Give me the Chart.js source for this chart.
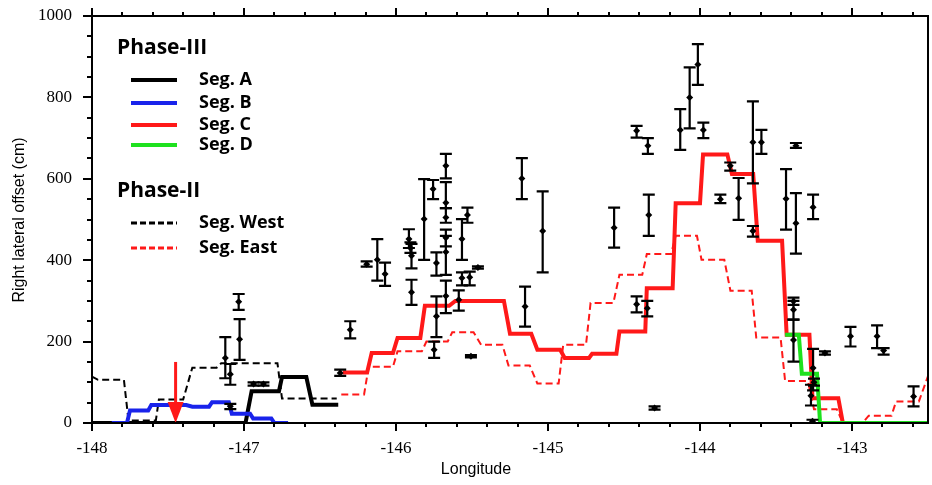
<!DOCTYPE html>
<html>
<head>
<meta charset="utf-8">
<script src="https://cdn.jsdelivr.net/npm/chart.js@4.4.1/dist/chart.umd.min.js"></script>
<style>
  html, body { margin: 0; padding: 0; background: #fff; }
  #wrap { width: 932px; height: 485px; }
</style>
</head>
<body>
<div id="wrap"><canvas id="offset-chart" width="932" height="485"></canvas></div>
<script>
// Phase-III step profiles, [longitude, right lateral offset (cm)]
const segA = [[-148, 0], [-146.99, 0], [-146.95, 78], [-146.77, 78], [-146.75, 113], [-146.59, 113],
  [-146.55, 45], [-146.38, 45]];
const segB = [[-147.87, 0], [-147.77, 0], [-147.75, 31], [-147.63, 31], [-147.61, 44], [-147.38, 44],
  [-147.34, 40], [-147.23, 40], [-147.21, 51], [-147.10, 51], [-147.08, 23], [-146.96, 23],
  [-146.94, 11], [-146.82, 11], [-146.80, 0], [-146.71, 0]];
const segC = [[-146.35, 124], [-146.19, 124], [-146.16, 172], [-146.02, 172], [-145.99, 209], [-145.84, 209],
  [-145.81, 288], [-145.65, 288], [-145.61, 300], [-145.29, 300], [-145.25, 219], [-145.11, 219],
  [-145.07, 180], [-144.92, 180], [-144.89, 160], [-144.73, 160], [-144.71, 170], [-144.55, 170],
  [-144.53, 225], [-144.36, 225], [-144.35, 331], [-144.18, 331], [-144.16, 540], [-144.00, 540],
  [-143.98, 660], [-143.82, 660], [-143.79, 612], [-143.65, 612], [-143.62, 448], [-143.46, 448],
  [-143.43, 217], [-143.28, 217], [-143.26, 61], [-143.09, 61], [-143.06, 0]];
const segD = [[-143.44, 217], [-143.35, 217], [-143.33, 121], [-143.23, 121], [-143.21, 0], [-142.5, 0]];

// Phase-II step profiles
const segWest = [[-148, 114], [-147.96, 106], [-147.79, 106], [-147.76, 6], [-147.58, 6], [-147.56, 58],
  [-147.40, 58], [-147.34, 136], [-147.18, 136], [-147.15, 147], [-146.78, 147], [-146.75, 60],
  [-146.39, 60]];
const segEast = [[-146.36, 70], [-146.21, 70], [-146.18, 138], [-146.02, 138], [-145.99, 176], [-145.83, 176],
  [-145.80, 200], [-145.66, 200], [-145.63, 223], [-145.49, 223], [-145.44, 192], [-145.30, 192],
  [-145.26, 141], [-145.12, 141], [-145.07, 97], [-144.93, 97], [-144.90, 192], [-144.75, 192],
  [-144.72, 295], [-144.57, 295], [-144.53, 364], [-144.38, 364], [-144.35, 415], [-144.19, 415],
  [-144.16, 460], [-144.02, 460], [-143.99, 401], [-143.84, 401], [-143.80, 325], [-143.66, 325],
  [-143.63, 210], [-143.47, 210], [-143.44, 103], [-143.29, 103], [-143.25, 34], [-143.10, 34],
  [-143.06, 0], [-142.93, 0], [-142.89, 18], [-142.74, 18], [-142.71, 53], [-142.56, 53], [-142.5, 115]];

// field measurements: longitude, offset, lower and upper bound (cm)
const obsLon = [-147.035, -147.029, -147.123, -147.090, -147.090, -146.937, -146.872, -146.367, -146.301,
  -146.193, -146.123, -146.072, -145.915, -145.905, -145.898, -145.898, -145.815, -145.756, -145.749,
  -145.734, -145.734, -145.672, -145.672, -145.672, -145.672, -145.672, -145.672, -145.587, -145.566,
  -145.566, -145.530, -145.515, -145.507, -145.461, -145.172, -145.151, -145.035, -144.565, -144.417,
  -144.343, -144.337, -144.417, -144.347, -144.299, -144.130, -144.068, -144.014, -143.978, -143.866,
  -143.801, -143.746, -143.652, -143.596, -143.652, -143.369, -143.434, -143.369, -143.256, -143.385,
  -143.385, -143.385, -143.178, -143.256, -143.250, -143.270, -143.260, -143.010, -142.835, -142.792,
  -142.595];
const obsOffset = [298, 206, 160, 120, 41, 96, 96, 123, 229,
  390, 401, 366, 452, 430, 411, 321, 501, 575, 180,
  262, 393, 632, 541, 505, 455, 420, 312, 303, 452,
  356, 511, 358, 164, 382, 601, 286, 472, 480, 718,
  681, 511, 292, 282, 37, 720, 800, 881, 720, 550,
  632, 552, 690, 690, 472, 681, 551, 491, 530, 299,
  278, 204, 172, 135, 100, 67, 4, 213, 213, 178,
  65];
const obsLow = [278, 155, 110, 94, 34, 92, 92, 116, 208,
  384, 350, 337, 430, 418, 380, 290, 401, 550, 160,
  211, 362, 601, 528, 492, 434, 364, 270, 276, 401,
  338, 492, 338, 161, 379, 550, 237, 370, 431, 701,
  661, 460, 272, 262, 33, 671, 724, 831, 700, 540,
  620, 499, 589, 661, 458, 676, 475, 416, 501, 290,
  254, 151, 168, 80, 92, 43, 0, 188, 184, 168,
  41];
const obsHigh = [317, 255, 211, 145, 47, 100, 100, 131, 250,
  397, 452, 394, 476, 444, 440, 352, 599, 597, 200,
  311, 419, 661, 592, 528, 475, 460, 350, 326, 501,
  370, 529, 372, 167, 385, 651, 335, 569, 529, 730,
  700, 561, 311, 300, 41, 771, 874, 931, 738, 561,
  640, 602, 790, 720, 484, 688, 624, 565, 561, 308,
  300, 254, 176, 182, 109, 94, 8, 236, 240, 184,
  90];

const xTickLabels = [-148, -147, -146, -145, -144, -143];
const yTickLabels = [0, 200, 400, 600, 800, 1000];

// red marker arrow
const arrowLon = -147.45;
const arrowTop = 150;

const toXY = pts => pts.map(p => ({ x: p[0], y: p[1] }));

const legendGroups = [
  { title: 'Phase-III', y: 48, items: [
    { label: 'Seg. A', color: '#000', dash: [], width: 4, y: 80 },
    { label: 'Seg. B', color: 'rgb(25,35,235)', dash: [], width: 4, y: 103 },
    { label: 'Seg. C', color: 'rgb(255,25,25)', dash: [], width: 4, y: 125 },
    { label: 'Seg. D', color: 'rgb(30,225,30)', dash: [], width: 4, y: 145 }
  ]},
  { title: 'Phase-II', y: 191, items: [
    { label: 'Seg. West', color: '#000', dash: [6, 3], width: 3, y: 223 },
    { label: 'Seg. East', color: 'rgb(255,25,25)', dash: [6, 3], width: 3, y: 248 }
  ]}
];

const tickFont = { family: '"Liberation Serif", "DejaVu Serif", serif', size: 17 };

// frame, tick marks, error bars, arrow, titles and legend
const decorations = {
  id: 'decorations',
  afterDatasetsDraw(chart) {
    const ctx = chart.ctx;
    const xs = chart.scales.x, ys = chart.scales.y;
    ctx.save();
    ctx.strokeStyle = '#000';
    ctx.lineWidth = 2.2;
    ctx.setLineDash([]);
    for (let i = 0; i < obsLon.length; i++) {
      const px = xs.getPixelForValue(obsLon[i]);
      const top = ys.getPixelForValue(obsHigh[i]);
      const bot = ys.getPixelForValue(obsLow[i]);
      ctx.beginPath();
      ctx.moveTo(px, top); ctx.lineTo(px, bot);
      ctx.moveTo(px - 6, top); ctx.lineTo(px + 6, top);
      ctx.moveTo(px - 6, bot); ctx.lineTo(px + 6, bot);
      ctx.stroke();
    }

    // arrow
    const ax = xs.getPixelForValue(arrowLon);
    const aTop = ys.getPixelForValue(arrowTop);
    const aBot = ys.getPixelForValue(0);
    ctx.strokeStyle = 'rgb(255,25,25)';
    ctx.fillStyle = 'rgb(255,25,25)';
    ctx.lineWidth = 3;
    ctx.beginPath();
    ctx.moveTo(ax, aTop); ctx.lineTo(ax, aBot - 16);
    ctx.stroke();
    ctx.beginPath();
    ctx.moveTo(ax - 8, aBot - 21);
    ctx.lineTo(ax + 8, aBot - 21);
    ctx.lineTo(ax, aBot);
    ctx.closePath();
    ctx.fill();
    ctx.restore();
  },
  afterDraw(chart) {
    const ctx = chart.ctx;
    const a = chart.chartArea;
    const xs = chart.scales.x, ys = chart.scales.y;
    ctx.save();
    ctx.strokeStyle = '#000';
    ctx.lineWidth = 2;
    ctx.strokeRect(a.left, a.top, a.right - a.left, a.bottom - a.top);

    // x ticks every 0.2, top and bottom, pointing out
    ctx.beginPath();
    for (let k = 0; k <= 27; k++) {
      const px = Math.round(xs.getPixelForValue(-148 + k * 0.2));
      const len = k % 5 === 0 ? 8 : 4;
      ctx.moveTo(px, a.bottom); ctx.lineTo(px, a.bottom + len);
      ctx.moveTo(px, a.top); ctx.lineTo(px, a.top - len);
    }
    // y ticks every 50
    for (let k = 0; k <= 20; k++) {
      const py = Math.round(ys.getPixelForValue(k * 50));
      const len = k % 4 === 0 ? 9 : 5;
      ctx.moveTo(a.left, py); ctx.lineTo(a.left - len, py);
    }
    ctx.stroke();

    // axis titles
    ctx.fillStyle = '#000';
    ctx.font = '16px "Liberation Sans", Arial, sans-serif';
    ctx.textAlign = 'center';
    ctx.textBaseline = 'middle';
    ctx.fillText('Longitude', 476, 470);
    ctx.save();
    ctx.translate(20, 220);
    ctx.rotate(-Math.PI / 2);
    ctx.fillText('Right lateral offset (cm)', 0, 0);
    ctx.restore();

    // legend
    ctx.textAlign = 'left';
    legendGroups.forEach(g => {
      ctx.font = 'bold 21px "Open Sans", sans-serif';
      ctx.fillText(g.title, 117, g.y);
      g.items.forEach(it => {
        ctx.strokeStyle = it.color;
        ctx.lineWidth = it.width;
        ctx.setLineDash(it.dash);
        ctx.beginPath();
        ctx.moveTo(131, it.y); ctx.lineTo(177, it.y);
        ctx.stroke();
        ctx.setLineDash([]);
        ctx.font = 'bold 18px "Open Sans", sans-serif';
        ctx.fillText(it.label, 199, it.y);
      });
    });
    ctx.restore();
  }
};

const lineSet = (pts, color, width, dash, order) => ({
  data: toXY(pts),
  showLine: true,
  borderColor: color,
  borderWidth: width,
  borderDash: dash,
  borderJoinStyle: 'miter',
  pointRadius: 0,
  fill: false,
  order: order
});

new Chart(document.getElementById('offset-chart'), {
  type: 'scatter',
  data: {
    datasets: [
      {
        data: obsLon.map((x, i) => ({ x: x, y: obsOffset[i] })),
        pointStyle: 'rectRot',
        pointRadius: 3.5,
        backgroundColor: '#000',
        borderWidth: 0,
        order: 0
      },
      lineSet(segD, 'rgb(30,225,30)', 4, [], 1),
      lineSet(segC, 'rgb(255,25,25)', 4, [], 2),
      lineSet(segB, 'rgb(25,35,235)', 4, [], 3),
      lineSet(segA, '#000', 4, [], 4),
      lineSet(segWest, '#000', 2, [7, 4], 5),
      lineSet(segEast, 'rgb(255,25,25)', 2, [7, 4], 6)
    ]
  },
  options: {
    responsive: false,
    animation: false,
    devicePixelRatio: 1,
    events: [],
    layout: { padding: { left: 0, right: 1, top: 16, bottom: 0 } },
    plugins: { legend: { display: false }, tooltip: { enabled: false } },
    scales: {
      x: {
        type: 'linear',
        min: -148,
        max: -142.5,
        afterBuildTicks: s => { s.ticks = xTickLabels.map(v => ({ value: v })); },
        afterFit: s => { s.height = 62; s.paddingLeft = 0; s.paddingRight = 0; },
        grid: { display: false, drawTicks: false },
        border: { display: false },
        ticks: {
          padding: 15,
          color: '#000',
          maxRotation: 0,
          font: tickFont,
          callback: v => String(v)
        }
      },
      y: {
        type: 'linear',
        min: 0,
        max: 1000,
        afterBuildTicks: s => { s.ticks = yTickLabels.map(v => ({ value: v })); },
        // keep the tick padding from pushing the plot area down
        afterFit: s => { s.width = 92; s.paddingTop = 0; s.paddingBottom = 0; },
        grid: { display: false, drawTicks: false },
        border: { display: false },
        ticks: {
          padding: 20,
          color: '#000',
          font: tickFont,
          callback: v => String(v)
        }
      }
    }
  },
  plugins: [decorations]
});
</script>
</body>
</html>
